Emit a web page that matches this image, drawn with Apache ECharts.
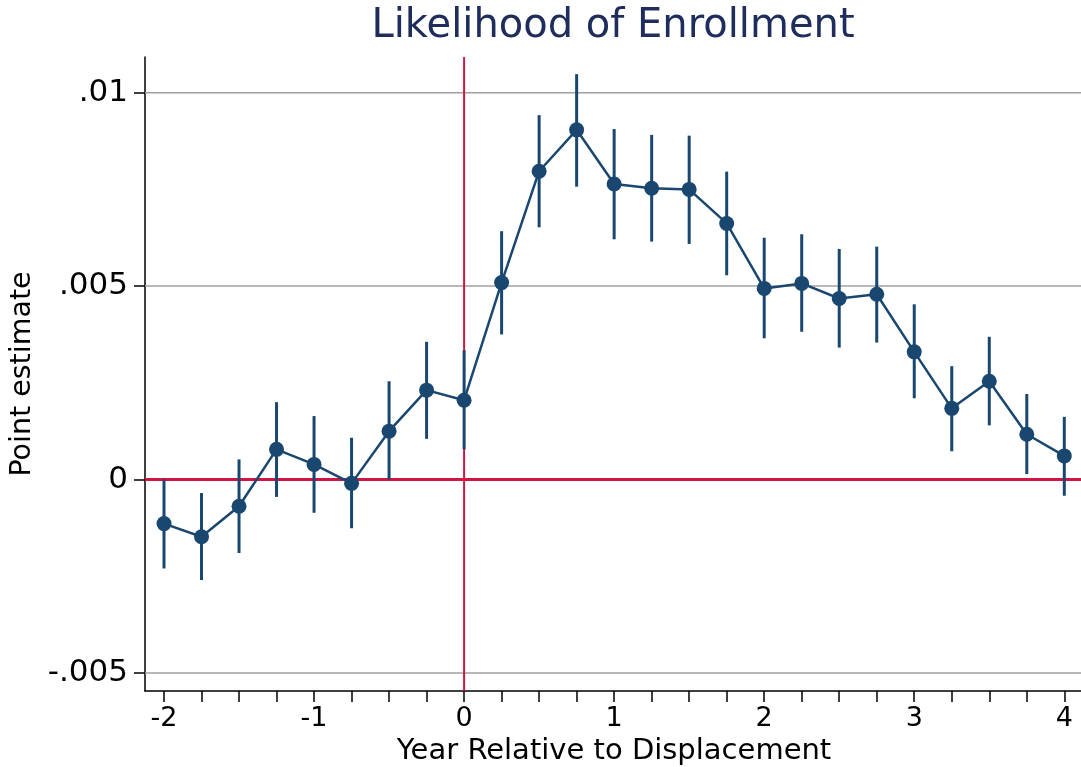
<!DOCTYPE html>
<html>
<head>
<meta charset="utf-8">
<script src="https://cdn.jsdelivr.net/npm/echarts@6/dist/echarts.min.js"></script>
<style>
  html, body { margin: 0; padding: 0; background: #ffffff; }
  #chart { width: 1081px; height: 767px; }
</style>
</head>
<body>
<div id="chart"></div>
<script>
// Event-study estimates: year relative to displacement, point estimate and 95% CI
const years = [-2, -1.75, -1.5, -1.25, -1, -0.75, -0.5, -0.25, 0, 0.25, 0.5, 0.75, 1,
               1.25, 1.5, 1.75, 2, 2.25, 2.5, 2.75, 3, 3.25, 3.5, 3.75, 4];
const estimate = [-0.00114, -0.00148, -0.00069, 0.00078, 0.00039, -0.0001, 0.00125, 0.00231,
                  0.00205, 0.00509, 0.00797, 0.00904, 0.00764, 0.00753, 0.0075, 0.00662,
                  0.00494, 0.00507, 0.00468, 0.00479, 0.0033, 0.00184, 0.00254, 0.00117, 0.00061];
const ciLower = [-0.0023, -0.0026, -0.0019, -0.00045, -0.00086, -0.00126, 0.0, 0.00105,
                 0.00078, 0.00375, 0.00652, 0.00757, 0.00621, 0.00615, 0.00609, 0.00528,
                 0.00365, 0.00382, 0.00341, 0.00354, 0.0021, 0.00073, 0.0014, 0.00014, -0.00042];
const ciUpper = [0.0, -0.00035, 0.00052, 0.002, 0.00164, 0.00108, 0.00254, 0.00356,
                 0.00334, 0.00642, 0.00942, 0.01048, 0.00906, 0.00891, 0.00889, 0.00796,
                 0.00625, 0.00634, 0.00596, 0.00602, 0.00453, 0.00293, 0.00369, 0.00221, 0.00162];

// Axis ticks and labels
const xTicks = [-2, -1.75, -1.5, -1.25, -1, -0.75, -0.5, -0.25, 0, 0.25, 0.5, 0.75, 1,
                1.25, 1.5, 1.75, 2, 2.25, 2.5, 2.75, 3, 3.25, 3.5, 3.75, 4];
const xLabelValues = [-2, -1, 0, 1, 2, 3, 4];
const xLabelText = ['-2', '-1', '0', '1', '2', '3', '4'];
const yTicks = [-0.005, 0, 0.005, 0.01];
const yLabelText = ['-.005', '0', '.005', '.01'];
const yGridValues = [-0.005, 0.005, 0.01];
const zeroLineY = [0];
const eventLineX = [0];

const xRange = [-2.1266, 4.1113];
const yRange = [-0.005468, 0.010923];

const NAVY = '#1a476f';
const RED = '#cf1546';
const FONT = 'DejaVu Sans';

const chart = echarts.init(document.getElementById('chart'), null, { renderer: 'canvas' });

function hLines(color, width) {
  return function (params, api) {
    const v = api.value(0);
    const a = api.coord([xRange[0], v]);
    const b = api.coord([xRange[1], v]);
    return { type: 'line', shape: { x1: a[0], y1: a[1], x2: b[0], y2: b[1] },
             style: { stroke: color, lineWidth: width } };
  };
}

chart.setOption({
  animation: false,
  backgroundColor: '#ffffff',
  grid: { left: 145, right: 0, top: 57, bottom: 76, containLabel: false },
  xAxis: {
    type: 'value', min: xRange[0], max: xRange[1],
    axisLine: { show: true, onZero: false, lineStyle: { color: '#000', width: 1.5 } },
    axisTick: { show: true, length: 11, customValues: xTicks, lineStyle: { color: '#000', width: 1.5 } },
    axisLabel: {
      customValues: xLabelValues, margin: 14, color: '#000', fontFamily: FONT, fontSize: 27,
      formatter: v => xLabelText[xLabelValues.indexOf(Math.round(v * 100) / 100)] ?? ''
    },
    splitLine: { show: false }
  },
  yAxis: {
    type: 'value', min: yRange[0], max: yRange[1],
    axisLine: { show: true, onZero: false, lineStyle: { color: '#000', width: 1.5 } },
    axisTick: { show: true, length: 11, customValues: yTicks, lineStyle: { color: '#000', width: 1.5 } },
    axisLabel: {
      customValues: yTicks, margin: 17, color: '#000', fontFamily: FONT, fontSize: 31,
      formatter: v => {
        const i = yTicks.findIndex(t => Math.abs(t - v) < 1e-9);
        return i >= 0 ? yLabelText[i] : '';
      }
    },
    splitLine: { show: false }
  },
  graphic: [
    { type: 'text', x: 613, y: 27, style: { text: 'Likelihood of Enrollment', fill: '#1f2d5c',
      font: '40px "DejaVu Sans"', textAlign: 'center', textVerticalAlign: 'middle' } },
    { type: 'text', x: 614, y: 751, style: { text: 'Year Relative to Displacement', fill: '#000',
      font: '29px "DejaVu Sans"', textAlign: 'center', textVerticalAlign: 'middle' } },
    { type: 'text', x: 23, y: 374, rotation: Math.PI / 2, style: { text: 'Point estimate', fill: '#000',
      font: '28.5px "DejaVu Sans"', textAlign: 'center', textVerticalAlign: 'middle' } }
  ],
  series: [
    { // horizontal grid lines
      type: 'custom', z: 1, silent: true, clip: false,
      data: yGridValues.map(v => [v]),
      renderItem: hLines('#a0a0a0', 1.5)
    },
    { // reference line at zero
      type: 'custom', z: 2, silent: true, clip: false,
      data: zeroLineY.map(v => [v]),
      renderItem: hLines(RED, 3)
    },
    { // vertical line at the displacement year
      type: 'custom', z: 2, silent: true, clip: false,
      data: eventLineX.map(v => [v]),
      renderItem: (params, api) => {
        const v = api.value(0);
        const a = api.coord([v, yRange[0]]);
        const b = api.coord([v, yRange[1]]);
        return { type: 'line', shape: { x1: a[0], y1: a[1], x2: b[0], y2: b[1] },
                 style: { stroke: RED, lineWidth: 2 } };
      }
    },
    { // confidence intervals
      type: 'custom', z: 3, silent: true,
      data: years.map((x, i) => [x, ciLower[i], ciUpper[i]]),
      encode: { x: 0, y: [1, 2] },
      renderItem: (params, api) => {
        const lo = api.coord([api.value(0), api.value(1)]);
        const hi = api.coord([api.value(0), api.value(2)]);
        return { type: 'line', shape: { x1: lo[0], y1: lo[1], x2: hi[0], y2: hi[1] },
                 style: { stroke: NAVY, lineWidth: 3 } };
      }
    },
    { // point estimates
      type: 'line', z: 4, silent: true,
      data: years.map((x, i) => [x, estimate[i]]),
      symbol: 'circle', symbolSize: 15,
      lineStyle: { color: NAVY, width: 2.5 },
      itemStyle: { color: NAVY }
    }
  ]
});
</script>
</body>
</html>
